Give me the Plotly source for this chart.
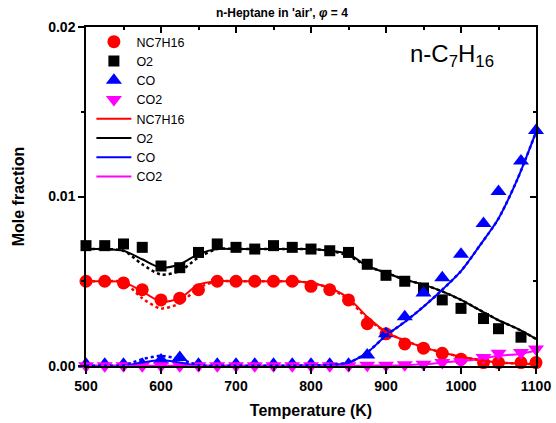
import plotly.graph_objects as go

# ---------------- data ----------------
T_exp = [500, 525, 550, 575, 600, 625, 650, 675, 700, 725, 750, 775, 800,
         825, 850, 875, 900, 925, 950, 975, 1000, 1030, 1050, 1080, 1100]

nc7h16_exp = [0.0050, 0.0050, 0.0049, 0.0045, 0.0039, 0.0040, 0.0045, 0.0050,
              0.0050, 0.0050, 0.0050, 0.0050, 0.0047, 0.0045, 0.0039, 0.0025,
              0.0019, 0.0013, 0.00105, 0.00075, 0.0004, 0.0002, 0.0002,
              0.0002, 0.0002]
o2_exp = [0.0071, 0.0071, 0.0072, 0.0070, 0.0059, 0.0058, 0.0067, 0.0072,
          0.0070, 0.0069, 0.0071, 0.0070, 0.0069, 0.0068, 0.0067, 0.0060,
          0.00535, 0.0050, 0.0046, 0.0039, 0.0034, 0.0028, 0.0022, 0.0017,
          None]
co_exp = [0.0001, 0.0001, 0.0001, 0.0001, 0.00035, 0.0005, 0.0001, 0.0001,
          0.0001, 0.0001, 0.0001, 0.0001, 0.0001, 0.0001, 0.0001, 0.00065,
          0.0019, 0.0029, 0.0043, 0.0052, 0.0066, 0.0084, 0.0103, 0.0121,
          0.0139]
co2_exp = [0.00002, 0.00002, 0.00002, 0.00002, 0.00002, 0.00002, 0.00002,
           0.00002, 0.00002, 0.00002, 0.00002, 0.00002, 0.00002, 0.00002,
           0.00002, 0.00005, 0.00005, 0.00008, 0.0001, 0.0002, 0.00025,
           0.0005, 0.00075, 0.0008, 0.0010]

T_mod = [500, 525, 550, 575, 600, 625, 650, 675, 700, 725, 750, 775, 800,
         825, 850, 875, 900, 925, 950, 975, 1000, 1025, 1050, 1075, 1100]

nc7h16_mod = [0.0050, 0.0050, 0.00495, 0.0044, 0.0038, 0.0040, 0.0048,
              0.0050, 0.0050, 0.0050, 0.0050, 0.0050, 0.0049, 0.0046,
              0.0040, 0.0029, 0.0020, 0.0015, 0.0011, 0.0008, 0.00055,
              0.00035, 0.0002, 0.00015, 0.0001]
nc7h16_mod2 = [0.0050, 0.0050, 0.00495, 0.0040, 0.0034, 0.0037, 0.0046,
               0.0050, 0.0050, 0.0050, 0.0050, 0.0050, 0.0049, 0.0046,
               0.0039, 0.0028, 0.0020, 0.0015, 0.0011, 0.0008, 0.00055,
               0.00035, 0.0002, 0.00015, 0.0001]
o2_mod = [0.0069, 0.0069, 0.0068, 0.0063, 0.0058, 0.0060, 0.0066, 0.0069,
          0.0069, 0.0069, 0.0069, 0.0069, 0.0069, 0.0068, 0.0066, 0.0059,
          0.0055, 0.0051, 0.0048, 0.0044, 0.0039, 0.0033, 0.0027, 0.0022,
          0.0016]
o2_mod2 = [0.0069, 0.0069, 0.0068, 0.0060, 0.0054, 0.0056, 0.0064, 0.0069,
           0.0069, 0.0069, 0.0069, 0.0069, 0.0069, 0.0068, 0.0065, 0.0059,
           0.0055, 0.0051, 0.0048, 0.0044, 0.0039, 0.0033, 0.0027, 0.0022,
           0.0016]
co_mod = [0.00002, 0.00002, 0.00003, 0.0002, 0.00035, 0.0002, 0.00003,
          0.00002, 0.00002, 0.00002, 0.00002, 0.00002, 0.00003, 0.00006,
          0.0002, 0.0008, 0.0018, 0.0026, 0.0035, 0.0045, 0.0056, 0.0071,
          0.0087, 0.0110, 0.0138]
co_mod2 = [0.00002, 0.00002, 0.00004, 0.0004, 0.0006, 0.0004, 0.00005,
           0.00002, 0.00002, 0.00002, 0.00002, 0.00002, 0.00003, 0.00006,
           0.0002, 0.0008, 0.0018, 0.0026, 0.0035, 0.0045, 0.0056, 0.0071,
           0.0087, 0.0110, 0.0138]
co2_mod = [0.00001, 0.00001, 0.00001, 0.00001, 0.00001, 0.00001, 0.00001,
           0.00001, 0.00001, 0.00001, 0.00001, 0.00001, 0.00001, 0.00001,
           0.00001, 0.00002, 0.00003, 0.00005, 0.0001, 0.0002, 0.0003,
           0.0004, 0.0006, 0.0007, 0.0009]

species = ["NC7H16", "O2", "CO", "CO2"]
colors = ["#FF0000", "#000000", "#0000FF", "#FF00FF"]
symbols = ["circle", "square", "triangle-up", "triangle-down"]
msizes = [13, 11, 14, 14]

exp_data = [nc7h16_exp, o2_exp, co_exp, co2_exp]
mod_data = [nc7h16_mod, o2_mod, co_mod, co2_mod]
mod2_data = [nc7h16_mod2, o2_mod2, co_mod2, None]

FONT = "Liberation Sans, Arial, sans-serif"

fig = go.Figure()

for name, col, sym, ms, ys in zip(species, colors, symbols, msizes, exp_data):
    fig.add_trace(go.Scatter(x=T_exp, y=ys, mode="markers", name=name,
                             marker=dict(symbol=sym, size=ms, color=col),
                             cliponaxis=False))

for name, col, ys in zip(species, colors, mod_data):
    fig.add_trace(go.Scatter(x=T_mod, y=ys, mode="lines", name=name,
                             line=dict(color=col, width=2, shape="spline",
                                       smoothing=0.8),
                             cliponaxis=False))

for name, col, ys in zip(species, colors, mod2_data):
    if ys is None:
        continue
    fig.add_trace(go.Scatter(x=T_mod, y=ys, mode="lines", name=name,
                             showlegend=False,
                             line=dict(color=col, width=2.5, dash="dot",
                                       shape="spline", smoothing=0.8),
                             cliponaxis=False))

# dummy trace to draw the mirrored top/right axes
fig.add_trace(go.Scatter(x=[None], y=[None], xaxis="x2", yaxis="y2",
                         showlegend=False, hoverinfo="skip"))

axis_common = dict(showline=True, linecolor="black", linewidth=1.5,
                   showgrid=False, zeroline=False, tickcolor="black",
                   tickwidth=1.5, automargin=False)

fig.update_layout(
    width=556, height=423,
    margin=dict(l=86, r=20, t=27, b=57),
    paper_bgcolor="white", plot_bgcolor="white",
    font=dict(family=FONT, color="black"),
    title=dict(text="<b>n-Heptane in 'air', <i>φ</i> = 4</b>",
               x=0.507, xanchor="center", y=0.97, yanchor="middle",
               font=dict(size=12, family=FONT)),
    xaxis=dict(range=[500, 1100], dtick=100, ticks="outside", ticklen=6,
               tickfont=dict(size=14, family=FONT, weight="bold"),
               title=dict(text="<b>Temperature (K)</b>",
                          font=dict(size=16, family=FONT), standoff=12),
               minor=dict(dtick=50, ticks="outside", ticklen=3,
                          tickcolor="black", tickwidth=1.5),
               **axis_common),
    yaxis=dict(range=[0, 0.02], dtick=0.01, tickformat=".2f",
               ticks="outside", ticklen=6,
               tickfont=dict(size=14, family=FONT, weight="bold"),
               title=dict(text="<b>Mole fraction</b>",
                          font=dict(size=16, family=FONT), standoff=20),
               minor=dict(dtick=0.005, ticks="outside", ticklen=3,
                          tickcolor="black", tickwidth=1.5),
               **axis_common),
    xaxis2=dict(overlaying="x", side="top", matches="x", range=[500, 1100],
                dtick=100, ticks="inside", ticklen=6, showticklabels=False,
                minor=dict(dtick=50, ticks="inside", ticklen=3,
                           tickcolor="black", tickwidth=1.5),
                anchor="y", **axis_common),
    yaxis2=dict(overlaying="y", side="right", matches="y", range=[0, 0.02],
                dtick=0.01, ticks="inside", ticklen=6, showticklabels=False,
                minor=dict(dtick=0.005, ticks="inside", ticklen=3,
                           tickcolor="black", tickwidth=1.5),
                anchor="x", **axis_common),
    legend=dict(x=0.012, y=1.0, xanchor="left", yanchor="top",
                bgcolor="rgba(0,0,0,0)", font=dict(size=12.5, family=FONT),
                tracegroupgap=0, itemwidth=35),
    showlegend=True,
    annotations=[dict(text="n-C<sub>7</sub>H<sub>16</sub>", xref="paper",
                      yref="paper", x=0.91, y=0.915, xanchor="right",
                      yanchor="middle", showarrow=False,
                      font=dict(size=24, family=FONT))],
)

fig.write_html("out.html",
               config={"displayModeBar": False},
               post_script="document.body.style.margin='0';"
                           "document.body.style.overflow='hidden';")
